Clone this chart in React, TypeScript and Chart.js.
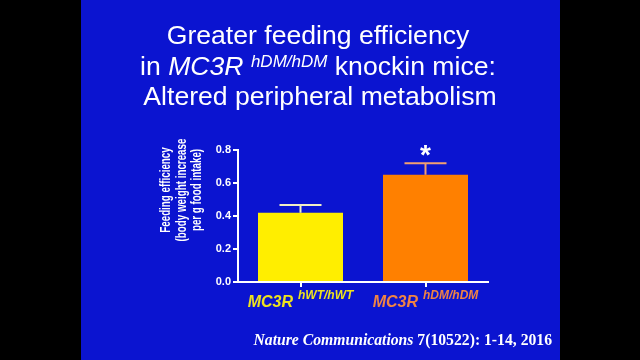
import React, { useEffect, useRef } from "react";
import { Chart, registerables } from "chart.js";

Chart.register(...registerables);

// ---- data ----
const labelMain = ["MC3R", "MC3R"];
const labelSup = ["hWT/hWT", "hDM/hDM"];
const values = [0.42, 0.65];
const errors = [0.047, 0.07];
const marks = ["", "*"];
const yMin = 0;
const yMax = 0.8;
const yStep = 0.2;
const yTitleLines = ["Feeding efficiency", "(body weight increase", "per g food intake)"];
const titleLine1 = "Greater feeding efficiency";
const titleLine2 = ["in ", "MC3R", "hDM/hDM", " knockin mice:"];
const titleLine3 = "Altered peripheral metabolism";
const citeItalic = "Nature Communications";
const citeRest = " 7(10522): 1-14, 2016";

// ---- styles ----
const barColors = ["#ffee00", "#ff8000"];
const errColors = ["#f2efc4", "#f3a070"];
const labelColors = ["#eee21e", "#f08444"];
const SANS = '"Liberation Sans", Arial, sans-serif';
const SERIF = '"Liberation Serif", "Times New Roman", serif';

const decorPlugin = {
  id: "decor",
  beforeDraw(chart: any) {
    const ctx = chart.ctx;
    ctx.save();
    ctx.fillStyle = "#000000";
    ctx.fillRect(0, 0, chart.width, chart.height);
    ctx.fillStyle = "#0b14d0";
    ctx.fillRect(81, 0, 479, chart.height);
    ctx.restore();
  },
  afterDatasetsDraw(chart: any) {
    const ctx = chart.ctx;
    const xs = chart.scales.x;
    const ys = chart.scales.y;
    const meta = chart.getDatasetMeta(0);
    ctx.save();
    // error bars
    values.forEach((v, i) => {
      const el = meta.data[i];
      const x = el.x;
      const yTop = ys.getPixelForValue(v);
      const yErr = ys.getPixelForValue(v + errors[i]);
      ctx.strokeStyle = errColors[i];
      ctx.lineWidth = 2;
      ctx.beginPath();
      ctx.moveTo(x, yTop);
      ctx.lineTo(x, yErr);
      ctx.moveTo(x - 21, yErr);
      ctx.lineTo(x + 21, yErr);
      ctx.stroke();
      if (marks[i]) {
        ctx.fillStyle = "#ffffff";
        ctx.font = `bold 28px ${SANS}`;
        ctx.textAlign = "center";
        ctx.textBaseline = "alphabetic";
        ctx.fillText(marks[i], x, yErr + 1);
      }
    });
    // x labels with superscript
    values.forEach((_, i) => {
      const cx = xs.getPixelForValue(i);
      ctx.font = `italic bold 16px ${SANS}`;
      const w1 = ctx.measureText(labelMain[i]).width;
      ctx.font = `italic bold 12px ${SANS}`;
      const w2 = ctx.measureText(labelSup[i]).width;
      const gap = 5;
      const start = cx - (w1 + gap + w2) / 2;
      ctx.fillStyle = labelColors[i];
      ctx.textAlign = "left";
      ctx.textBaseline = "alphabetic";
      ctx.font = `italic bold 16px ${SANS}`;
      ctx.fillText(labelMain[i], start, 307);
      ctx.font = `italic bold 12px ${SANS}`;
      ctx.fillText(labelSup[i], start + w1 + gap, 299);
    });
    // y title (condensed)
    ctx.translate(182, 190);
    ctx.rotate(-Math.PI / 2);
    ctx.scale(0.7, 1);
    ctx.fillStyle = "#ffffff";
    ctx.font = `bold 14px ${SANS}`;
    ctx.textAlign = "center";
    ctx.textBaseline = "middle";
    yTitleLines.forEach((t, k) => {
      ctx.fillText(t, 0, (k - 1) * 15.5);
    });
    ctx.restore();

    // title
    ctx.save();
    ctx.fillStyle = "#ffffff";
    ctx.textBaseline = "alphabetic";
    ctx.textAlign = "center";
    ctx.font = `26.6px ${SANS}`;
    ctx.fillText(titleLine1, 318, 44);
    ctx.fillText(titleLine3, 320, 105);
    // line 2 mixed
    const parts = [
      { t: titleLine2[0], f: `26.6px ${SANS}`, dy: 0 },
      { t: titleLine2[1], f: `italic 26.6px ${SANS}`, dy: 0 },
      { t: " ", f: `26.6px ${SANS}`, dy: 0 },
      { t: titleLine2[2], f: `italic 17px ${SANS}`, dy: -8 },
      { t: titleLine2[3], f: `26.6px ${SANS}`, dy: 0 },
    ];
    let total = 0;
    const widths = parts.map((p) => {
      ctx.font = p.f;
      const w = ctx.measureText(p.t).width;
      total += w;
      return w;
    });
    let x = 318 - total / 2;
    ctx.textAlign = "left";
    parts.forEach((p, k) => {
      ctx.font = p.f;
      ctx.fillText(p.t, x, 75 + p.dy);
      x += widths[k];
    });
    // citation
    ctx.font = `bold 15.7px ${SERIF}`;
    const wr = ctx.measureText(citeRest).width;
    ctx.font = `italic bold 15.7px ${SERIF}`;
    const wi = ctx.measureText(citeItalic).width;
    const right = 552;
    ctx.fillText(citeItalic, right - wr - wi, 345);
    ctx.font = `bold 15.7px ${SERIF}`;
    ctx.fillText(citeRest, right - wr, 345);
    ctx.restore();
  },
};

export default function App() {
  const ref = useRef<HTMLCanvasElement | null>(null);
  useEffect(() => {
    if (!ref.current) return;
    const chart = new Chart(ref.current, {
      type: "bar",
      data: {
        labels: labelMain.map((m, i) => `${m} ${labelSup[i]}`),
        datasets: [
          {
            data: values,
            backgroundColor: barColors,
            borderWidth: 0,
            barPercentage: 0.68,
            categoryPercentage: 1,
          },
        ],
      },
      options: {
        responsive: false,
        animation: false,
        layout: { padding: { left: 0, top: 150, right: 152, bottom: 0 } },
        plugins: { legend: { display: false }, tooltip: { enabled: false } },
        scales: {
          x: {
            offset: true,
            ticks: { display: false },
            grid: {
              offset: false,
              drawOnChartArea: false,
              drawTicks: true,
              tickLength: 5,
              color: "#ffffff",
              lineWidth: 2,
            },
            border: { display: true, color: "#ffffff", width: 2 },
            afterFit: (s: any) => {
              s.height = 78;
            },
          },
          y: {
            min: yMin,
            max: yMax,
            ticks: {
              stepSize: yStep,
              color: "#ffffff",
              padding: 2,
              font: { family: SANS, size: 11, weight: "bold" },
              callback: (v: any) => Number(v).toFixed(1),
            },
            grid: {
              drawOnChartArea: false,
              drawTicks: true,
              tickLength: 5,
              color: "#ffffff",
              lineWidth: 2,
            },
            border: { display: true, color: "#ffffff", width: 2 },
            afterFit: (s: any) => {
              s.width = 238;
            },
          },
        },
      },
      plugins: [decorPlugin],
    });
    return () => chart.destroy();
  }, []);
  return (
    <div style={{ position: "absolute", left: 0, top: 0, width: 640, height: 360 }}>
      <canvas ref={ref} width={640} height={360} style={{ display: "block" }} />
    </div>
  );
}
